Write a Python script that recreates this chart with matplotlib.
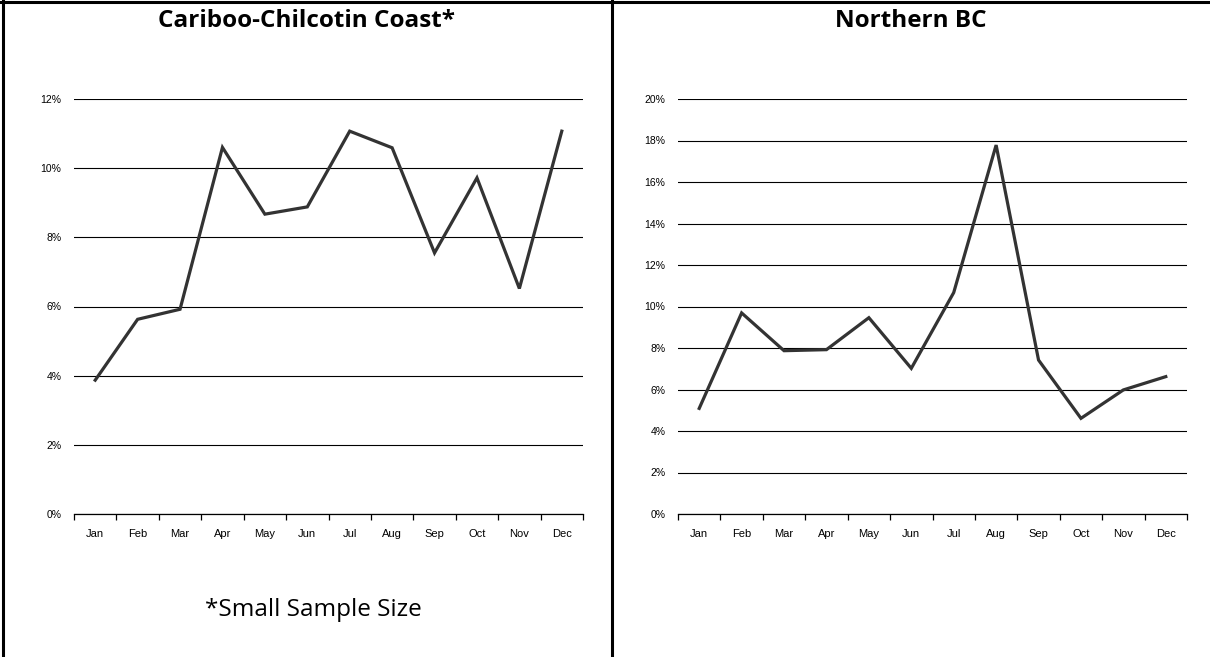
import matplotlib
matplotlib.use("Agg")
import matplotlib.pyplot as plt
from matplotlib.lines import Line2D
from matplotlib.ticker import FuncFormatter, MultipleLocator

months = ["Jan", "Feb", "Mar", "Apr", "May", "Jun",
          "Jul", "Aug", "Sep", "Oct", "Nov", "Dec"]

# percentages
cariboo = [3.87, 5.63, 5.92, 10.6, 8.67, 8.88, 11.07, 10.59, 7.55, 9.72, 6.52, 11.07]
northern = [5.09, 9.69, 7.87, 7.92, 9.46, 7.02, 10.67, 17.78, 7.42, 4.61, 5.98, 6.62]

titles = ["Cariboo-Chilcotin Coast*", "Northern BC"]
ymaxs = [12, 20]
note = "*Small Sample Size"

W, H = 1210, 657
fig = plt.figure(figsize=(W / 100, H / 100), dpi=100)

def px(x0, x1, y0, y1):
    # pixel box (top-left origin) -> figure fraction rect
    return [x0 / W, 1 - y1 / H, (x1 - x0) / W, (y1 - y0) / H]

boxes = [px(74, 583, 99, 514), px(678, 1187, 99, 514)]
title_x = [307, 911]

for box, vals, ymax, title, tx in zip(boxes, [cariboo, northern], ymaxs, titles, title_x):
    ax = fig.add_axes(box)
    x = list(range(len(months)))
    ax.plot(x, vals, color="#333333", lw=2.3, solid_joinstyle="miter")
    ax.set_xlim(-0.5, 11.5)
    ax.set_ylim(0, ymax)
    ax.yaxis.set_major_locator(MultipleLocator(2))
    ax.yaxis.set_major_formatter(FuncFormatter(lambda v, p: "%d%%" % v))
    ax.grid(axis="y", color="black", lw=0.8)
    ax.set_axisbelow(True)
    for s in ["top", "right", "left"]:
        ax.spines[s].set_visible(False)
    ax.spines["bottom"].set_linewidth(0.9)
    ax.set_xticks([i - 0.5 for i in range(13)])
    ax.set_xticklabels([])
    ax.set_xticks(x, minor=True)
    ax.set_xticklabels(months, minor=True, fontsize=8, family="Liberation Sans")
    ax.tick_params(axis="x", which="major", length=4, width=0.9, direction="out")
    ax.tick_params(axis="x", which="minor", length=0, pad=11)
    ax.tick_params(axis="y", length=0, pad=9, labelsize=7.5)
    for lab in ax.get_yticklabels():
        lab.set_family("Liberation Sans")
    fig.text(tx / W, 1 - 21 / H, title, ha="center", va="center",
             fontsize=17.5, fontweight="bold", family="Open Sans")

fig.text(313 / W, 1 - 610 / H, note, ha="center", va="center",
         fontsize=17.5, family="Open Sans")

# table borders
fig.add_artist(Line2D([0, 1], [1 - 1.5 / H, 1 - 1.5 / H], color="black", lw=2.2))
fig.add_artist(Line2D([2.5 / W, 2.5 / W], [0, 1], color="black", lw=2.2))
fig.add_artist(Line2D([612 / W, 612 / W], [0, 1], color="black", lw=2.2))

fig.savefig("out.png", dpi=100)
